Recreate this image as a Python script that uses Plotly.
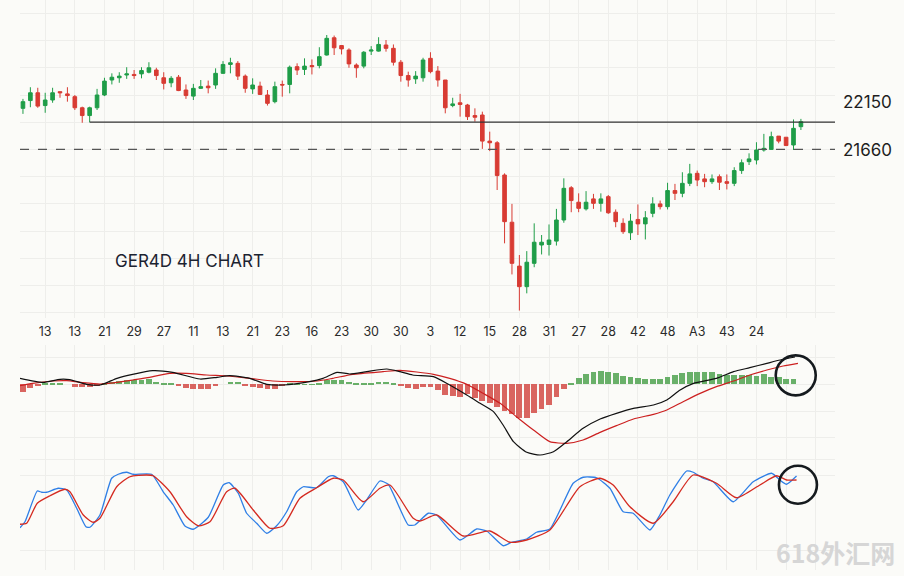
import plotly.graph_objects as go

# 4H candles (one per bar, left to right)
opens = [22400, 22540, 22680, 22450, 22550, 22700, 22660, 22610, 22410, 22270,
         22410, 22640, 22910, 22950, 23000, 23010, 23020, 23050, 23090, 22950,
         22860, 22960, 22730, 22620, 22760, 22800, 22820, 23030, 23190, 23210,
         22980, 22750, 22800, 22640, 22520, 22830, 22830, 23150, 23100, 23170,
         23170, 23360, 23670, 23530, 23450, 23180, 23160, 23430, 23430, 23540,
         23480, 23230, 22990, 22930, 22950, 23300, 23070, 22910, 22450, 22500,
         22460, 22270, 22280, 21810, 21780, 21200, 20350, 19560, 19190, 19610,
         19940, 19950, 20010, 20390, 20970, 20710, 20590, 20770, 20690, 20810,
         20530, 20330, 20160, 20400, 20320, 20510, 20680, 20630, 20920, 20870,
         21050, 21230, 21130, 21080, 21170, 21080, 21050, 21280, 21440, 21470,
         21650, 21660, 21900, 21880, 21740, 22070]
highs = [22570, 22780, 22770, 22680, 22770, 22700, 22780, 22640, 22430, 22430,
         22750, 22950, 23030, 23050, 23140, 23090, 23140, 23230, 23130, 23050,
         22980, 23000, 22830, 22840, 22910, 22900, 23120, 23250, 23310, 23250,
         23010, 22940, 22880, 22730, 22880, 22900, 23170, 23210, 23300, 23280,
         23500, 23720, 23710, 23540, 23480, 23210, 23430, 23520, 23680, 23630,
         23550, 23270, 23060, 23070, 23310, 23410, 23160, 22910, 22590, 22660,
         22480, 22400, 22340, 21980, 21810, 21230, 20680, 19760, 19830, 20330,
         20120, 20310, 20590, 21140, 21000, 20870, 20910, 20860, 20870, 20840,
         20580, 20420, 20500, 20670, 20550, 20800, 20740, 21060, 21040, 21250,
         21400, 21280, 21220, 21210, 21210, 21210, 21340, 21480, 21590, 21790,
         21940, 21980, 21900, 21880, 22200, 22210]
lows = [22300, 22420, 22410, 22320, 22500, 22590, 22520, 22370, 22140, 22150,
        22370, 22620, 22830, 22860, 22930, 22930, 22940, 23030, 22910, 22740,
        22780, 22710, 22570, 22550, 22750, 22670, 22750, 23020, 23030, 22910,
        22680, 22660, 22640, 22450, 22490, 22610, 22670, 23000, 23000, 23010,
        23120, 23350, 23360, 23370, 23130, 22950, 23120, 23360, 23420, 23420,
        23170, 22880, 22790, 22840, 22880, 23030, 22790, 22310, 22420, 22250,
        22190, 22160, 21670, 21630, 20930, 19970, 19410, 18760, 19070, 19540,
        19770, 19750, 19930, 20340, 20530, 20530, 20560, 20590, 20540, 20500,
        20260, 20140, 20030, 20120, 20040, 20440, 20580, 20580, 20750, 20800,
        21000, 21000, 20980, 21040, 20930, 20940, 21000, 21220, 21380, 21390,
        21620, 21650, 21770, 21730, 21650, 22010]
closes = [22520, 22680, 22440, 22550, 22680, 22680, 22630, 22410, 22270, 22410,
          22640, 22890, 22960, 22980, 23020, 22990, 23080, 23130, 22990, 22850,
          22940, 22720, 22630, 22760, 22790, 22770, 23030, 23190, 23220, 22980,
          22760, 22820, 22650, 22490, 22790, 22820, 23140, 23090, 23160, 23150,
          23330, 23660, 23490, 23470, 23200, 23130, 23410, 23450, 23550, 23480,
          23230, 22990, 22910, 22980, 23270, 23060, 22910, 22410, 22480, 22470,
          22250, 22240, 21810, 21780, 21190, 20360, 19610, 19190, 19630, 19990,
          19990, 20030, 20390, 20960, 20740, 20600, 20710, 20690, 20770, 20520,
          20360, 20180, 20370, 20320, 20430, 20680, 20630, 20920, 20870, 21050,
          21220, 21110, 21080, 21130, 21070, 21050, 21280, 21420, 21490, 21650,
          21680, 21890, 21810, 21730, 22040, 22160]

# bottom axis labels, one every 4 bars starting at bar 3
date_labels = ["13", "13", "21", "29", "27", "11", "13", "21", "23", "16", "23", "30", "30",
               "3", "12", "15", "28", "31", "27", "28", "42", "48", "A3", "43", "24"]

# key levels
resistance = 22150
resistance_from = 9      # bar where the solid line starts
support = 21660

# MACD histogram (one per bar, last bar has none)
macd_hist = [-24, -12, -3, 3, 3, 3, 0, -8, -8, -8, -6, 3, 6, 9, 12, 12, 12, 15, 6, 3,
             3, -6, -12, -15, -15, -15, -6, 0, 6, 6, -3, -9, -12, -15, -15, -6, 3, 1, 1, 1,
             3, 12, 12, 12, 6, 3, 3, 3, 6, 6, 3, -3, -12, -15, -9, -9, -18, -33, -36, -39,
             -30, -42, -51, -57, -69, -81, -90, -102, -102, -87, -75, -63, -39, -15, 1.5, 18, 30, 38, 41, 38,
             34, 26, 22, 19, 16, 16, 17, 21, 28, 35, 37, 37, 37, 36, 31, 28, 28, 28, 28, 26,
             30, 23, 21, 16, 15, None]

# MACD line (bar position, value)
macd_x = [-0.4, 2.7, 5.0, 6.3, 8.6, 10.4, 12.7, 14.8, 17.5, 20.2, 23.9, 26.2, 27.9, 30.6,
          32.9, 35.1, 38.7, 40.5, 42.4, 44.1, 46.4, 49.1, 50.9, 52.6, 55.4, 57.6, 59.9, 61.7,
          63.5, 64.8, 66.2, 68.0, 69.8, 71.6, 73.4, 75.6, 77.9, 80.1, 82.4, 85.1, 86.9, 88.7,
          90.5, 93.6, 95.9, 98.1, 100.4, 102.2, 104.2]
macd_line = [18, 6, 15, 14, 0, -2, 18, 30, 41, 36, 16, 21, 26, 18,
             0, -2, 8, 18, 36, 31, 38, 46, 38, 28, 23, -2, -32, -57,
             -82, -122, -172, -204, -212, -202, -172, -132, -104, -87, -72, -62, -47, -17,
             3, 18, 38, 50, 63, 73, 82]

# MACD signal line
signal_x = [-0.4, 1.3, 4.0, 5.9, 8.1, 10.4, 12.7, 14.8, 17.1, 19.8, 22.1, 24.8, 27.5, 30.6,
            33.7, 36.4, 39.7, 41.8, 44.5, 48.6, 50.9, 55.4, 57.6, 59.9, 62.1, 64.4, 66.6, 68.9,
            71.1, 73.4, 75.6, 77.9, 80.1, 82.4, 85.1, 86.9, 89.1, 91.4, 93.6, 95.9, 98.1, 100.4,
            102.6, 104.6]
signal_line = [-4, 3, 10, 11, 5, 1, 6, 13, 21, 33, 33, 28, 25, 18,
               10, 8, 10, 18, 30, 38, 42, 30, 18, 0, -27, -57, -97, -137,
               -172, -177, -167, -144, -124, -104, -90, -77, -52, -27, -7, 10, 28, 43,
               55, 63]

# stochastic %K
k_x = [-0.4, 0.27, 1.93, 2.52, 3.2, 4.76, 5.9, 7.25, 8.5, 9.04, 10.39, 11.97, 12.86, 13.99,
       14.89, 17.37, 18.93, 20.28, 21.86, 22.98, 25.01, 27.03, 27.84, 29.06, 30.19, 31.54,
       32.89, 34.24, 35.59, 36.94, 37.83, 39.64, 41.2, 41.88, 43.23, 45.25, 46.38, 48.18,
       49.3, 52.0, 52.9, 54.7, 55.83, 58.97, 61.23, 62.58, 64.82, 65.95, 67.98, 69.32,
       71.12, 74.26, 75.61, 77.42, 79.22, 81.01, 82.36, 84.62, 85.96, 87.31, 89.57, 90.46,
       91.81, 93.16, 95.86, 98.56, 101.04, 102.16, 103.06, 104.41]
stoch_k = [37.8, 42.6, 67.2, 66.2, 66.2, 69.4, 68, 53.4, 38.6, 38.2, 48, 77.4, 80.6, 82.2,
           80.6, 80.6, 66.6, 56, 39.2, 36.6, 46.2, 72, 73.8, 65.4, 49.4, 41.4,
           33.4, 39.4, 50.6, 66.6, 70.6, 69.8, 78.6, 79.4, 74.6, 52, 60, 75.2,
           72.6, 40, 40, 49.4, 48, 28, 36.8, 35.2, 23.4, 26.2, 28.8, 34.2,
           36.8, 73.4, 78.2, 77.8, 69.4, 50.6, 49.4, 36, 48, 64, 83.2, 82.2,
           77.4, 74.6, 58.6, 74.6, 81.4, 76, 72.6, 79.2]

# stochastic %D
d_x = [-0.4, 0.5, 1.93, 3.64, 5.67, 6.34, 8.14, 9.49, 10.39, 12.65, 14.44, 16.69, 17.58,
       19.84, 22.09, 23.66, 25.24, 27.49, 28.61, 31.08, 33.33, 35.13, 37.38, 39.64, 41.88,
       43.23, 45.92, 48.18, 49.53, 52.67, 53.58, 55.83, 59.42, 63.02, 65.72, 67.98, 71.12,
       75.17, 77.87, 79.66, 81.92, 85.06, 87.76, 90.46, 93.61, 96.31, 99.46, 101.71, 103.06,
       104.41]
stoch_d = [40.6, 41.4, 57.4, 63.4, 68.6, 66.6, 48, 42.2, 45.4, 70.6, 78.6, 80, 79.4,
           66.6, 46.6, 39.4, 42.6, 66.6, 69.4, 52, 37.4, 39.4, 61.4, 69.8, 77.4,
           76, 58.6, 69.4, 72, 45.4, 43.2, 48, 31.2, 35.2, 26.2, 28, 36,
           70.6, 77.4, 72, 54.6, 41.4, 58.6, 80, 73.4, 61.8, 72, 79.4, 76,
           76]

GREEN = "#1f9d48"
RED = "#d83b33"
GRID = "#eeeeeb"
BG = "#fbfbf8"

bars = list(range(len(opens)))
x_range = [-0.4, 109.6]
grid_ticks = list(range(3, 110, 4))
tick_text = date_labels + [""] * (len(grid_ticks) - len(date_labels))

fig = go.Figure()

fig.add_trace(go.Candlestick(
    x=bars, open=opens, high=highs, low=lows, close=closes,
    increasing=dict(line=dict(color=GREEN, width=1), fillcolor=GREEN),
    decreasing=dict(line=dict(color=RED, width=1), fillcolor=RED),
    xaxis="x", yaxis="y", hoverinfo="skip",
))

# support / resistance
fig.add_trace(go.Scatter(x=[resistance_from, x_range[1]], y=[resistance, resistance],
                         mode="lines", line=dict(color="#333333", width=1.3),
                         xaxis="x", yaxis="y"))
fig.add_trace(go.Scatter(x=x_range, y=[support, support], mode="lines",
                         line=dict(color="#555555", width=1.3, dash="dash"),
                         xaxis="x", yaxis="y"))

# MACD
hist_colors = ["#5aa85a" if (v is not None and v >= 0) else "#d65550" for v in macd_hist]
fig.add_trace(go.Bar(x=bars, y=macd_hist, marker=dict(color=hist_colors, line=dict(width=0)),
                     opacity=0.9, width=0.78, xaxis="x2", yaxis="y2"))
fig.add_trace(go.Scatter(x=signal_x, y=signal_line, mode="lines",
                         line=dict(color="#cc2020", width=1.2, shape="spline", smoothing=0.6),
                         xaxis="x2", yaxis="y2"))
fig.add_trace(go.Scatter(x=macd_x, y=macd_line, mode="lines",
                         line=dict(color="#111111", width=1.2, shape="spline", smoothing=0.6),
                         xaxis="x2", yaxis="y2"))

# stochastic
fig.add_trace(go.Scatter(x=k_x, y=stoch_k, mode="lines",
                         line=dict(color="#2f7fe6", width=1.3, shape="spline", smoothing=0.5),
                         xaxis="x3", yaxis="y3"))
fig.add_trace(go.Scatter(x=d_x, y=stoch_d, mode="lines",
                         line=dict(color="#d42a20", width=1.3, shape="spline", smoothing=0.6),
                         xaxis="x3", yaxis="y3"))

xcommon = dict(range=x_range, showgrid=True, gridcolor=GRID, gridwidth=1, tickmode="array",
               tickvals=grid_ticks, zeroline=False, showline=False, fixedrange=True)

fig.update_layout(
    width=904, height=576,
    margin=dict(l=20, r=69, t=0, b=0),
    paper_bgcolor=BG, plot_bgcolor=BG,
    showlegend=False, hovermode=False, bargap=0,
    font=dict(family="Inter, Noto Sans, sans-serif", color="#222222"),
    xaxis=dict(**xcommon, ticktext=tick_text, ticks="outside", ticklen=2,
               tickcolor="rgba(0,0,0,0)", tickfont=dict(size=12.5, color="#2a2a2a"),
               rangeslider=dict(visible=False), anchor="y"),
    yaxis=dict(domain=[1 - 318 / 576, 1], range=[18626, 24350], tick0=22150, dtick=490,
               showticklabels=False, showgrid=True, gridcolor=GRID, zeroline=False),
    xaxis2=dict(**xcommon, showticklabels=False, anchor="y2"),
    yaxis2=dict(domain=[1 - 456 / 576, 1 - 345 / 576], range=[-215, 118], tick0=0, dtick=80,
                showticklabels=False, showgrid=True, gridcolor=GRID, zeroline=False),
    xaxis3=dict(**xcommon, showticklabels=False, anchor="y3"),
    yaxis3=dict(domain=[1 - 570 / 576, 1 - 456 / 576], range=[4, 95.2], tickmode="array",
                tickvals=[20, 80, 92.8], showticklabels=False, showgrid=True,
                gridcolor=GRID, zeroline=False),
)

# circles highlighting the last bar on the two oscillators
fig.add_shape(type="circle", xref="x2", yref="y2", xsizemode="pixel", ysizemode="pixel",
              xanchor=104.3, yanchor=27, x0=-20, x1=20, y0=-20, y1=20,
              line=dict(color="#151a1e", width=2.6))
fig.add_shape(type="circle", xref="x3", yref="y3", xsizemode="pixel", ysizemode="pixel",
              xanchor=104.6, yanchor=72.2, x0=-19, x1=19, y0=-19, y1=19,
              line=dict(color="#151a1e", width=2.6))

fig.add_annotation(x=1, xref="paper", xanchor="left", xshift=6, y=resistance, yref="y",
                   yshift=20, text=str(resistance), showarrow=False,
                   font=dict(size=17, color="#1e1e1e"))
fig.add_annotation(x=1, xref="paper", xanchor="left", xshift=6, y=support, yref="y",
                   yshift=-1, text=str(support), showarrow=False,
                   font=dict(size=17, color="#1e1e1e"))
fig.add_annotation(x=(113 - 20) / 815, xref="paper", xanchor="left", y=1 - 261 / 576,
                   yref="paper", yanchor="middle", text="GER4D 4H CHART", showarrow=False,
                   font=dict(size=17, color="#1c2330"))
fig.add_annotation(x=(835 - 20) / 815, xref="paper", xanchor="center", y=1 - 552 / 576,
                   yref="paper", yanchor="middle", text="<b>618外汇网</b>", showarrow=False,
                   font=dict(size=25, color="#d6d6d6", family="Noto Sans CJK SC"))

# drop the default page margin so the figure sits at the window's corner
fig.write_html("out.html", config={"displayModeBar": False},
               post_script="document.body.style.margin='0';")
